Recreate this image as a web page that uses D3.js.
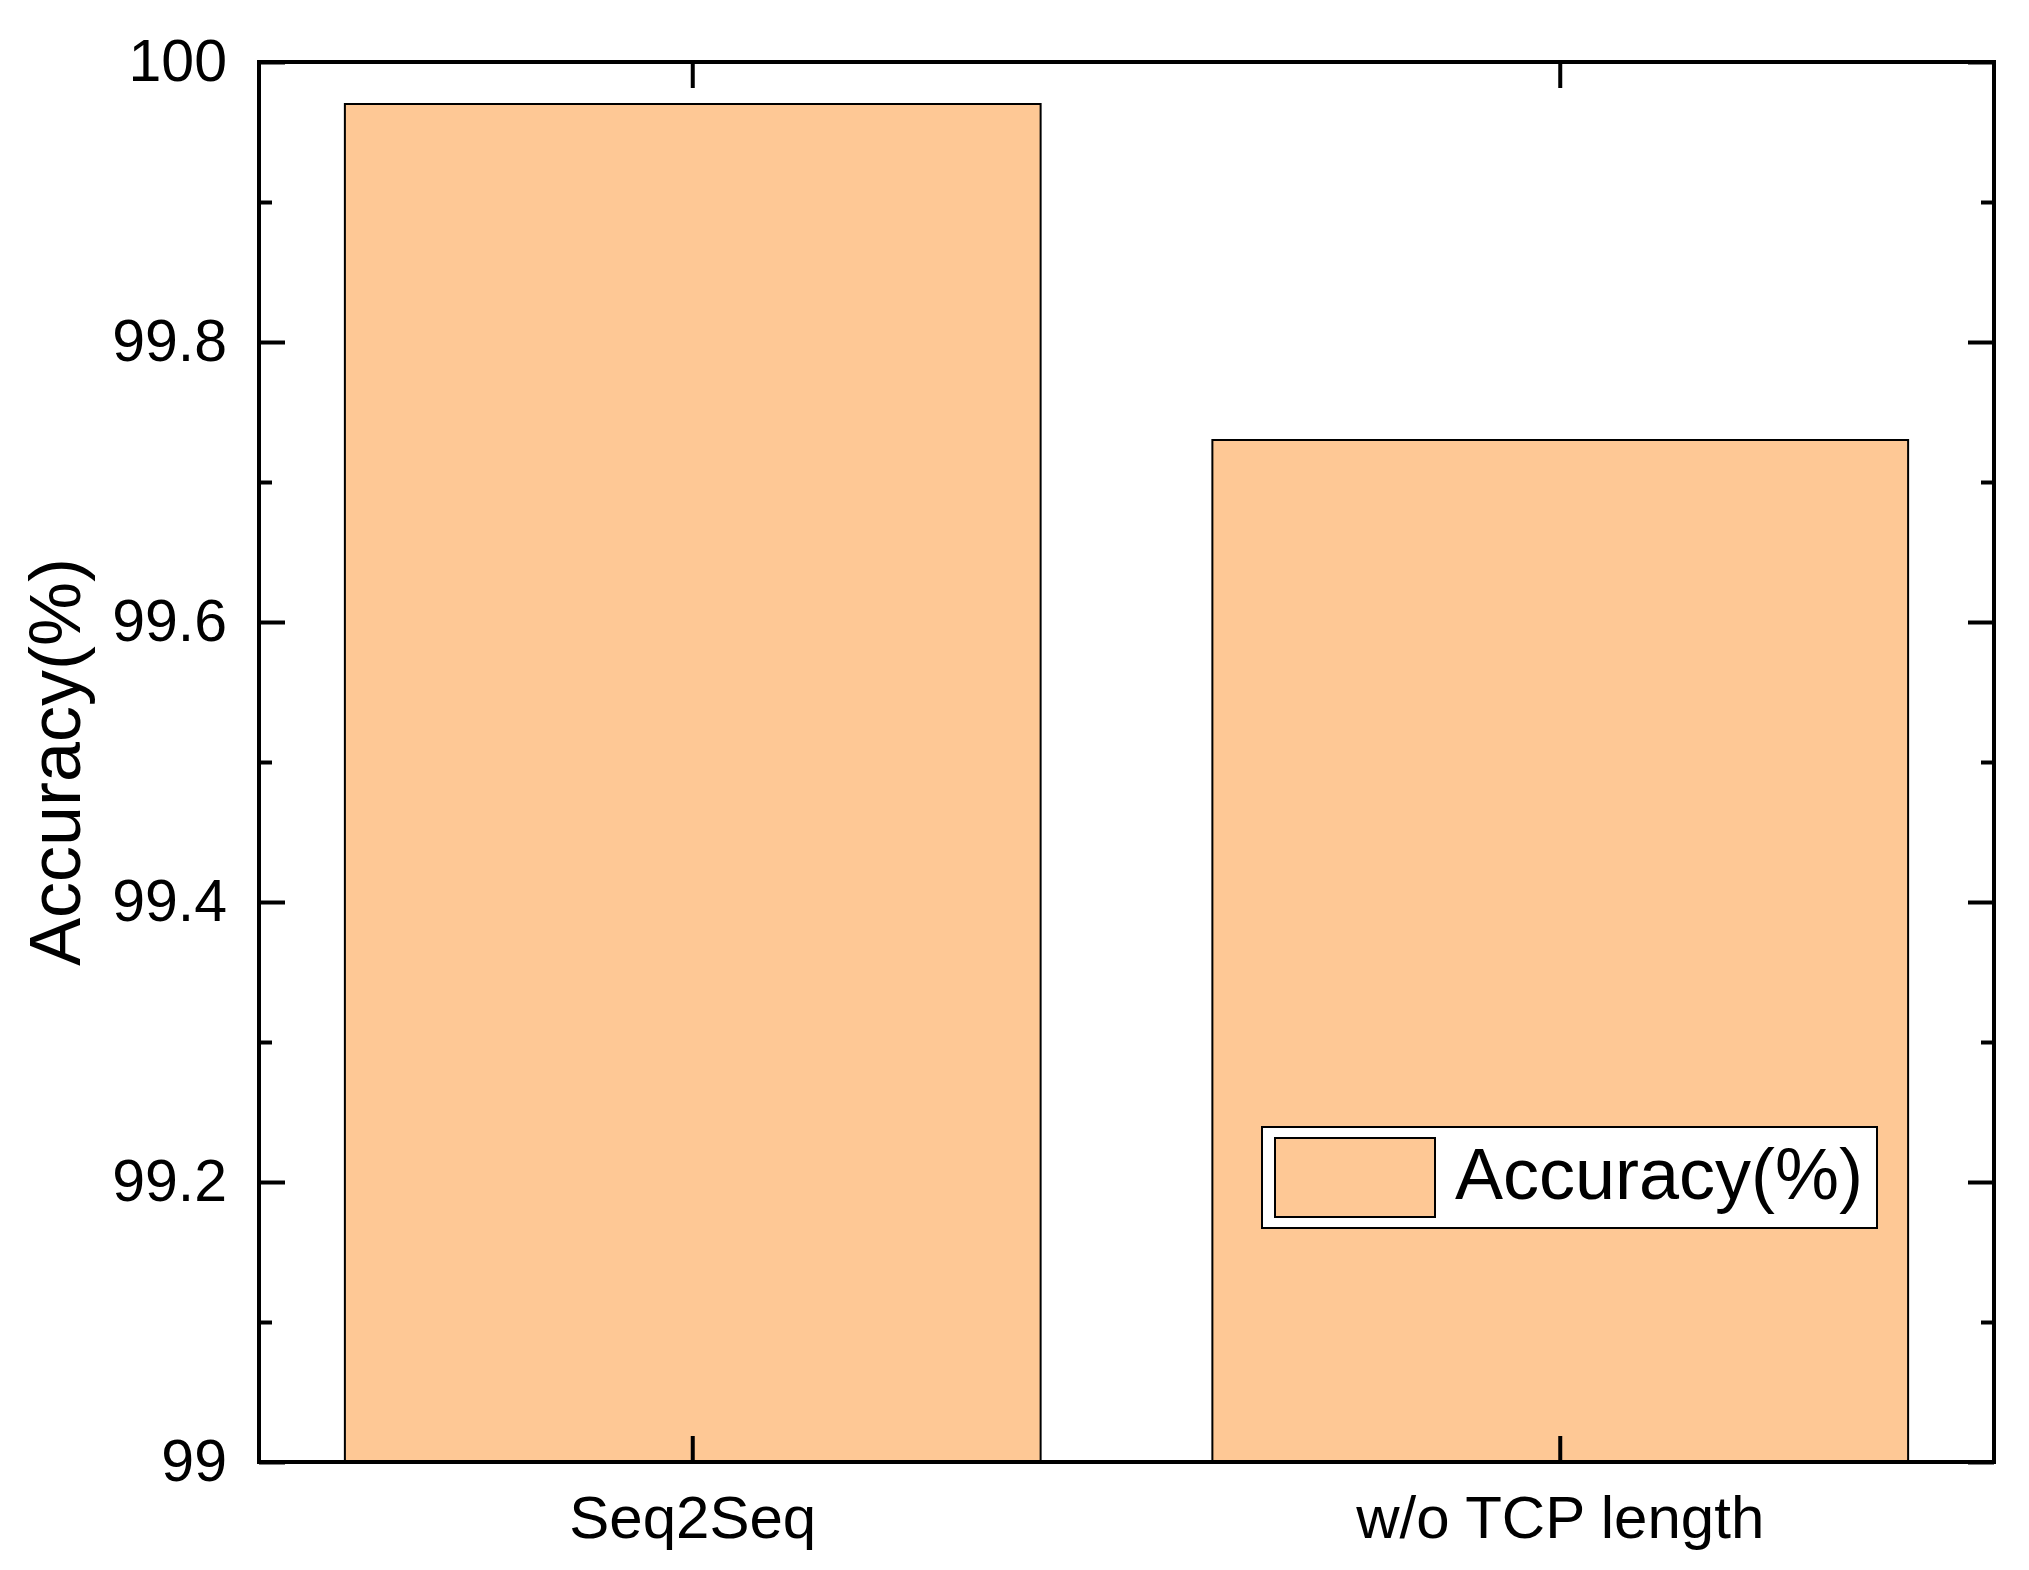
<!DOCTYPE html>
<html>
<head>
<meta charset="utf-8">
<script src="https://cdn.jsdelivr.net/npm/d3@7"></script>
<style>
  body { margin: 0; background: #fff; }
  svg { display: block; font-family: "Liberation Sans", Arial, sans-serif; }
</style>
</head>
<body>
<svg id="chart"></svg>
<script>
// data
const categories = ["Seq2Seq", "w/o TCP length"];
const accuracy = [99.97, 99.73];
const seriesName = "Accuracy(%)";
const yMajorTicks = [99, 99.2, 99.4, 99.6, 99.8, 100];
const yMinorTicks = [99.1, 99.3, 99.5, 99.7, 99.9];

const W = 2029, H = 1570;
const plotL = 259, plotR = 1994, plotT = 62, plotB = 1462;
const barColor = "#FEC895";

const svg = d3.select("#chart")
    .attr("width", W)
    .attr("height", H);

const x = d3.scaleBand()
    .domain(categories)
    .range([plotL, plotR])
    .paddingInner(0.198)
    .paddingOuter(0.099);

const y = d3.scaleLinear()
    .domain([99, 100])
    .range([plotB, plotT]);

// bars
svg.append("g")
    .selectAll("rect")
    .data(categories)
    .join("rect")
    .attr("x", d => x(d))
    .attr("y", (d, i) => y(accuracy[i]))
    .attr("width", x.bandwidth())
    .attr("height", (d, i) => y(99) - y(accuracy[i]))
    .style("fill", barColor)
    .style("stroke", "black")
    .style("stroke-width", 2);

// axes
function styleAxis(g) {
    g.select(".domain").remove();
    g.selectAll(".tick line").style("stroke", "black").style("stroke-width", 4);
    g.selectAll(".tick text")
        .style("fill", "black")
        .style("font-family", "'Liberation Sans', Arial, sans-serif");
}

// left
svg.append("g")
    .attr("transform", `translate(${plotL},0)`)
    .call(d3.axisLeft(y).tickValues(yMajorTicks).tickSizeInner(-26).tickSizeOuter(0)
        .tickPadding(32).tickFormat(d3.format("")))
    .call(styleAxis)
    .selectAll("text").style("font-size", "59px");

svg.append("g")
    .attr("transform", `translate(${plotL},0)`)
    .call(d3.axisLeft(y).tickValues(yMinorTicks).tickSizeInner(-13).tickSizeOuter(0).tickFormat(""))
    .call(styleAxis);

// right
svg.append("g")
    .attr("transform", `translate(${plotR},0)`)
    .call(d3.axisRight(y).tickValues(yMajorTicks).tickSizeInner(-26).tickSizeOuter(0).tickFormat(""))
    .call(styleAxis);

svg.append("g")
    .attr("transform", `translate(${plotR},0)`)
    .call(d3.axisRight(y).tickValues(yMinorTicks).tickSizeInner(-13).tickSizeOuter(0).tickFormat(""))
    .call(styleAxis);

// bottom
svg.append("g")
    .attr("transform", `translate(0,${plotB})`)
    .call(d3.axisBottom(x).tickSizeInner(-26).tickSizeOuter(0).tickPadding(33))
    .call(styleAxis)
    .selectAll("text").style("font-size", "60px");

// top
svg.append("g")
    .attr("transform", `translate(0,${plotT})`)
    .call(d3.axisTop(x).tickSizeInner(-26).tickSizeOuter(0).tickFormat(""))
    .call(styleAxis);

// frame
svg.append("rect")
    .attr("x", plotL)
    .attr("y", plotT)
    .attr("width", plotR - plotL)
    .attr("height", plotB - plotT)
    .style("fill", "none")
    .style("stroke", "black")
    .style("stroke-width", 4);

// y title
svg.append("text")
    .attr("transform", "rotate(-90)")
    .attr("x", -(plotT + plotB) / 2)
    .attr("y", 80)
    .attr("text-anchor", "middle")
    .style("font-size", "72px")
    .text(seriesName);

// legend
const legend = svg.append("g");
legend.append("rect")
    .attr("x", 1262).attr("y", 1127)
    .attr("width", 615).attr("height", 101)
    .style("fill", "white")
    .style("stroke", "black")
    .style("stroke-width", 2);
legend.append("rect")
    .attr("x", 1275).attr("y", 1138)
    .attr("width", 160).attr("height", 79)
    .style("fill", barColor)
    .style("stroke", "black")
    .style("stroke-width", 2);
legend.append("text")
    .attr("x", 1455).attr("y", 1199)
    .style("font-size", "72px")
    .text(seriesName);
</script>
</body>
</html>
